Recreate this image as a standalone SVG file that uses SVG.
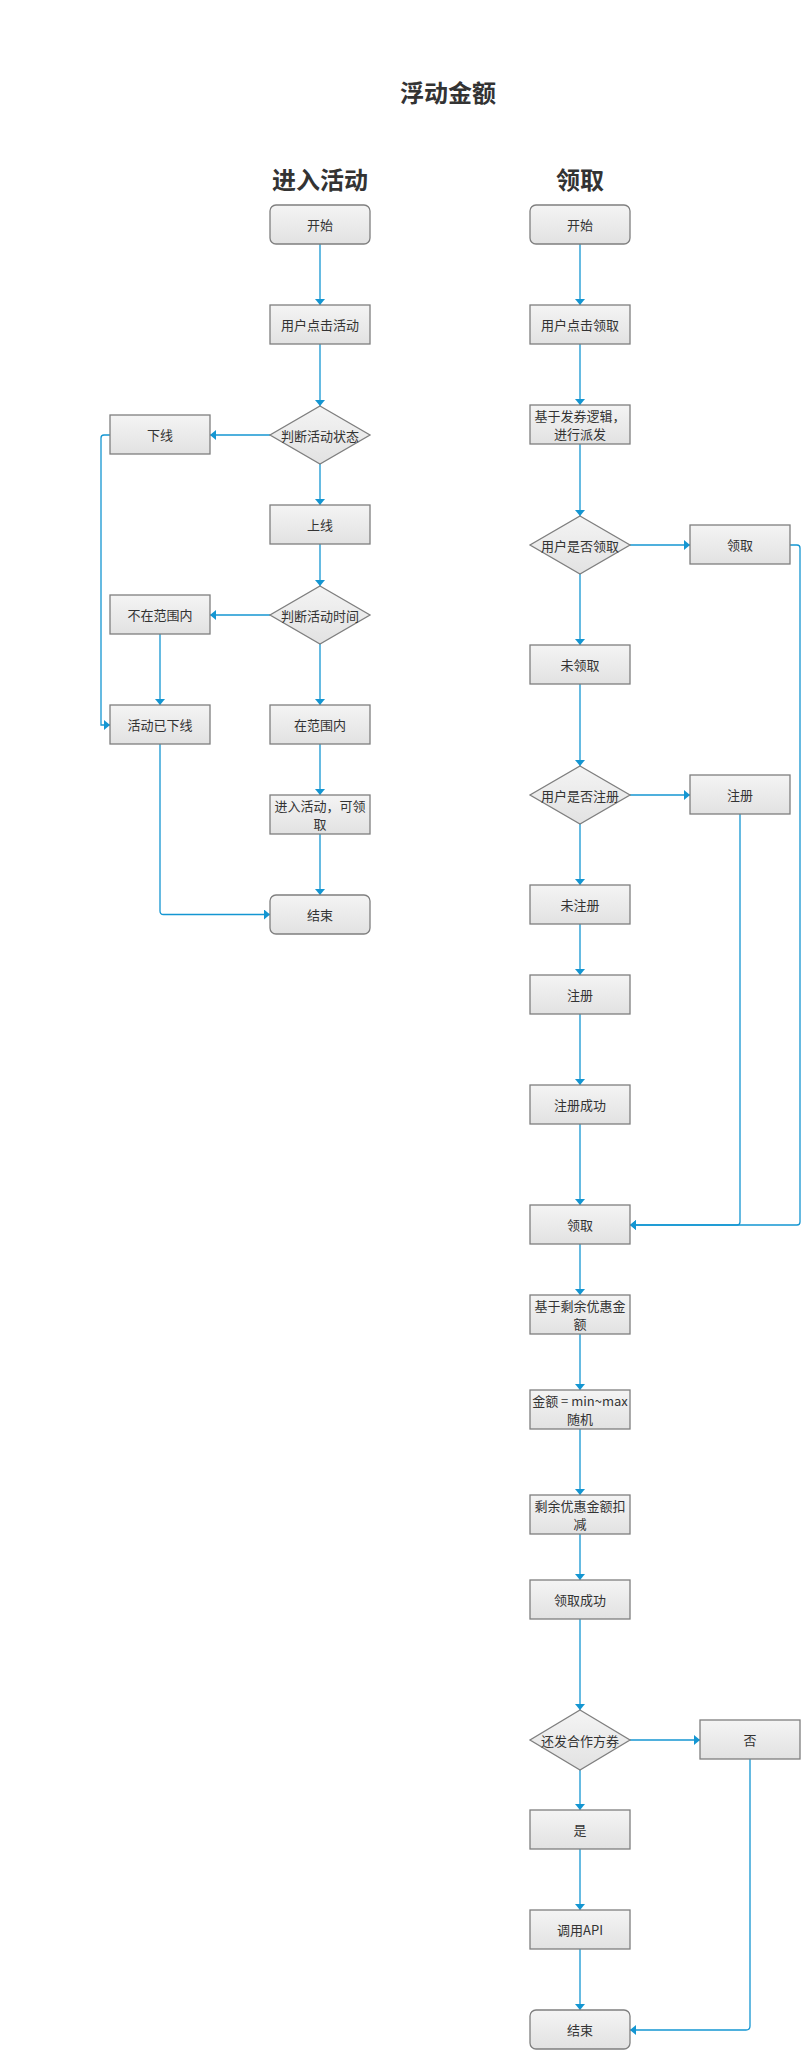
<svg xmlns="http://www.w3.org/2000/svg" width="810" height="2050" viewBox="0 0 810 2050">
<style>
text{font-family:"Noto Sans CJK SC","Liberation Sans",sans-serif;fill:#333;text-anchor:middle;dominant-baseline:central}
.t{font-size:13px}
.h{font-size:24px;font-weight:bold}
.n{fill:url(#g);stroke:#7f7f7f;stroke-width:1.3}
.c path{fill:none;stroke:#1496d2;stroke-width:1.3;marker-end:url(#a)}
</style>
<defs>
<linearGradient id="g" x1="0" y1="0" x2="0" y2="1">
<stop offset="0" stop-color="#f4f4f4"/>
<stop offset="1" stop-color="#e2e2e2"/>
</linearGradient>
<marker id="a" viewBox="0 0 6 10" refX="6" refY="5" markerWidth="6" markerHeight="10" markerUnits="userSpaceOnUse" orient="auto">
<path d="M0,0 L6,5 L0,10 z" fill="#1496d2"/>
</marker>
</defs>
<rect width="810" height="2050" fill="#fff"/>
<text class="h" x="448" y="91">浮动金额</text>
<text class="h" x="320" y="178">进入活动</text>
<text class="h" x="580" y="178">领取</text>

<g class="c" id="connectors">
<path d="M320,244 V305"/>
<path d="M320,344 V406"/>
<path d="M270,435 H210"/>
<path d="M320,464 V505"/>
<path d="M320,544 V586"/>
<path d="M270,615 H210"/>
<path d="M320,644 V705"/>
<path d="M160,634 V705"/>
<path d="M110,435 H104 Q101,435 101,438 V725 H110"/>
<path d="M320,744 V795"/>
<path d="M320,834 V895"/>
<path d="M160,744 V911 Q160,914.5 163.5,914.5 H270"/>
<path d="M580,244 V305"/>
<path d="M580,344 V405"/>
<path d="M580,444 V516"/>
<path d="M630,545 H690"/>
<path d="M580,574 V645"/>
<path d="M790,545 H797 Q800,545 800,548 V1222 Q800,1225 797,1225 H630"/>
<path d="M580,684 V766"/>
<path d="M630,795 H690"/>
<path d="M740,814 V1222 Q740,1225 737,1225 H630"/>
<path d="M580,824 V885"/>
<path d="M580,924 V975"/>
<path d="M580,1014 V1085"/>
<path d="M580,1124 V1205"/>
<path d="M580,1244 V1295"/>
<path d="M580,1334 V1390"/>
<path d="M580,1429 V1495"/>
<path d="M580,1534 V1580"/>
<path d="M580,1619 V1710"/>
<path d="M630,1740 H700"/>
<path d="M580,1770 V1810"/>
<path d="M580,1849 V1910"/>
<path d="M580,1949 V2010"/>
<path d="M750,1759 V2026 Q750,2030 746,2030 H630"/>
</g>

<g id="L_start"><rect class="n" x="270" y="205" width="100" height="39" rx="6"/><text class="t" x="320" y="224.5">开始</text></g>
<g id="L_click"><rect class="n" x="270" y="305" width="100" height="39"/><text class="t" x="320" y="324.5">用户点击活动</text></g>
<g id="L_state"><path class="n" d="M320,406 L370,435 L320,464 L270,435 z"/><text class="t" x="320" y="435">判断活动状态</text></g>
<g id="L_offline"><rect class="n" x="110" y="415" width="100" height="39"/><text class="t" x="160" y="434.5">下线</text></g>
<g id="L_online"><rect class="n" x="270" y="505" width="100" height="39"/><text class="t" x="320" y="524.5">上线</text></g>
<g id="L_time"><path class="n" d="M320,586 L370,615 L320,644 L270,615 z"/><text class="t" x="320" y="615">判断活动时间</text></g>
<g id="L_out"><rect class="n" x="110" y="595" width="100" height="39"/><text class="t" x="160" y="614.5">不在范围内</text></g>
<g id="L_in"><rect class="n" x="270" y="705" width="100" height="39"/><text class="t" x="320" y="724.5">在范围内</text></g>
<g id="L_down"><rect class="n" x="110" y="705" width="100" height="39"/><text class="t" x="160" y="724.5">活动已下线</text></g>
<g id="L_enter"><rect class="n" x="270" y="795" width="100" height="39"/><text class="t" x="320" y="805.5">进入活动，可领</text><text class="t" x="320" y="823.5">取</text></g>
<g id="L_end"><rect class="n" x="270" y="895" width="100" height="39" rx="6"/><text class="t" x="320" y="914.5">结束</text></g>

<g id="R_start"><rect class="n" x="530" y="205" width="100" height="39" rx="6"/><text class="t" x="580" y="224.5">开始</text></g>
<g id="R_click"><rect class="n" x="530" y="305" width="100" height="39"/><text class="t" x="580" y="324.5">用户点击领取</text></g>
<g id="R_dispatch"><rect class="n" x="530" y="405" width="100" height="39"/><text class="t" x="580" y="415.5">基于发券逻辑，</text><text class="t" x="580" y="433.5">进行派发</text></g>
<g id="R_q1"><path class="n" d="M580,516 L630,545 L580,574 L530,545 z"/><text class="t" x="580" y="545">用户是否领取</text></g>
<g id="R_got"><rect class="n" x="690" y="525" width="100" height="39"/><text class="t" x="740" y="544.5">领取</text></g>
<g id="R_not"><rect class="n" x="530" y="645" width="100" height="39"/><text class="t" x="580" y="664.5">未领取</text></g>
<g id="R_q2"><path class="n" d="M580,766 L630,795 L580,824 L530,795 z"/><text class="t" x="580" y="795">用户是否注册</text></g>
<g id="R_reg2"><rect class="n" x="690" y="775" width="100" height="39"/><text class="t" x="740" y="794.5">注册</text></g>
<g id="R_unreg"><rect class="n" x="530" y="885" width="100" height="39"/><text class="t" x="580" y="904.5">未注册</text></g>
<g id="R_reg"><rect class="n" x="530" y="975" width="100" height="39"/><text class="t" x="580" y="994.5">注册</text></g>
<g id="R_regok"><rect class="n" x="530" y="1085" width="100" height="39"/><text class="t" x="580" y="1104.5">注册成功</text></g>
<g id="R_get"><rect class="n" x="530" y="1205" width="100" height="39"/><text class="t" x="580" y="1224.5">领取</text></g>
<g id="R_base"><rect class="n" x="530" y="1295" width="100" height="39"/><text class="t" x="580" y="1305.5">基于剩余优惠金</text><text class="t" x="580" y="1323.5">额</text></g>
<g id="R_amount"><rect class="n" x="530" y="1390" width="100" height="39"/><text class="t" x="580" y="1400.5">金额 = min~max</text><text class="t" x="580" y="1418.5">随机</text></g>
<g id="R_deduct"><rect class="n" x="530" y="1495" width="100" height="39"/><text class="t" x="580" y="1505.5">剩余优惠金额扣</text><text class="t" x="580" y="1523.5">减</text></g>
<g id="R_ok"><rect class="n" x="530" y="1580" width="100" height="39"/><text class="t" x="580" y="1599.5">领取成功</text></g>
<g id="R_q3"><path class="n" d="M580,1710 L630,1740 L580,1770 L530,1740 z"/><text class="t" x="580" y="1740">还发合作方券</text></g>
<g id="R_no"><rect class="n" x="700" y="1720" width="100" height="39"/><text class="t" x="750" y="1739.5">否</text></g>
<g id="R_yes"><rect class="n" x="530" y="1810" width="100" height="39"/><text class="t" x="580" y="1829.5">是</text></g>
<g id="R_api"><rect class="n" x="530" y="1910" width="100" height="39"/><text class="t" x="580" y="1929.5">调用API</text></g>
<g id="R_end"><rect class="n" x="530" y="2010" width="100" height="39" rx="6"/><text class="t" x="580" y="2029.5">结束</text></g>
</svg>
